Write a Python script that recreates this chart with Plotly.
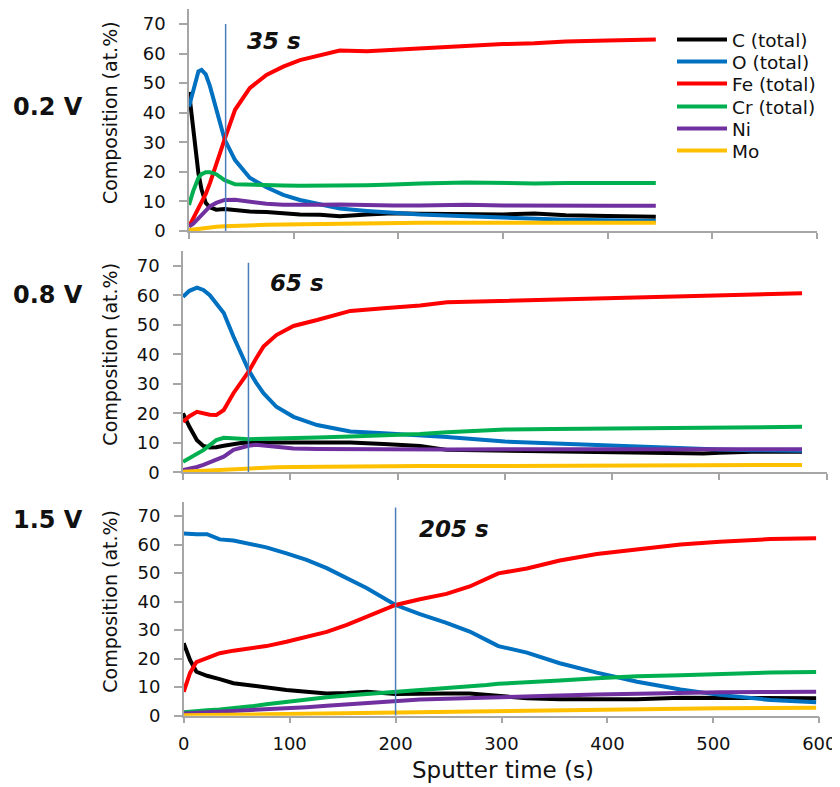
import plotly.graph_objects as go

# ---------------- data ----------------
series_names = ["C (total)", "O (total)", "Fe (total)", "Cr (total)", "Ni", "Mo"]
series_colors = ["#000000", "#0070C0", "#FF0000", "#00B050", "#7030A0", "#FFC000"]
panel_labels = ["0.2 V", "0.8 V", "1.5 V"]
marker_labels = ["35 s", "65 s", "205 s"]
marker_times = [35, 61, 200]
marker_tops = [70, 71, 73]
x_ticks = [0, 100, 200, 300, 400, 500, 600]
y_ticks = [0, 10, 20, 30, 40, 50, 60, 70]

# 0.2 V
t_02 = [0, 4, 9, 12, 16, 20, 26, 34, 44, 58, 74, 90, 106, 125, 144, 170, 195, 221, 265, 300, 330, 360, 400, 446]
c_02 = [47, 35, 19.5, 14, 9.5, 8.0, 7.2, 7.4, 7.0, 6.6, 6.4, 6.0, 5.6, 5.5, 5.0, 5.6, 6.0, 5.8, 5.7, 5.6, 5.9, 5.3, 5.1, 4.8]
o_02 = [42, 47, 54, 54.5, 53, 49, 41, 31, 24, 18, 14.8, 12.2, 10.5, 9.2, 7.6, 6.8, 6.2, 5.6, 5.0, 4.5, 4.0, 3.8, 3.6, 3.4]
fe_02 = [1.5, 4.2, 7.4, 9.2, 12.5, 16.2, 22.9, 31, 41, 48.3, 52.8, 55.6, 57.8, 59.5, 61.0, 60.8, 61.3, 61.5, 62.7, 63.2, 63.5, 64.1, 64.4, 64.8]
cr_02 = [8.8, 13.5, 18, 19.2, 19.9, 19.9, 19.2, 17.2, 15.8, 15.6, 15.5, 15.4, 15.3, 15.3, 15.4, 15.5, 15.7, 16.1, 16.4, 16.1, 16.1, 16.2, 16.2, 16.2]
ni_02 = [1.5, 2.5, 4.3, 5.4, 7.0, 8.3, 9.5, 10.5, 10.6, 9.9, 9.2, 8.9, 8.8, 8.9, 9.0, 8.7, 8.6, 8.6, 8.9, 8.6, 8.5, 8.5, 8.5, 8.5]
mo_02 = [0.3, 0.5, 0.8, 0.9, 1.1, 1.2, 1.4, 1.6, 1.8, 2.0, 2.1, 2.2, 2.3, 2.4, 2.5, 2.6, 2.7, 2.8, 2.8, 2.8, 2.8, 2.8, 2.8, 2.8]

# 0.8 V
t_08 = [0, 6, 13, 19, 25, 31, 38, 47, 54, 61, 68, 75, 87, 103, 125, 156, 187, 221, 246, 300, 345, 376, 407, 454, 485, 500, 530, 577]
c_08 = [20, 15.4, 10.9, 8.9, 8.4, 8.5, 9.0, 9.6, 9.9, 10.1, 10.1, 10.1, 10.1, 10.2, 10.4, 10.1, 9.6, 8.9, 7.6, 7.3, 7.1, 7.0, 6.9, 6.6, 6.4, 6.6, 7.0, 7.0]
o_08 = [59.5, 61.5, 62.6, 61.8, 60, 57.3, 54, 46, 40.5, 34.7, 30.5, 26.8, 22.2, 18.8, 16.0, 13.8, 13.2, 12.6, 12.0, 10.4, 9.8, 9.3, 8.9, 8.1, 7.8, 7.7, 7.5, 7.3]
fe_08 = [17.1, 19.0, 20.5, 19.9, 19.5, 19.4, 21.1, 26.8, 30.5, 34.0, 38.5, 42.6, 46.5, 49.6, 51.6, 54.7, 55.6, 56.5, 57.6, 58.1, 58.6, 58.9, 59.1, 59.5, 59.9, 60.1, 60.3, 60.7]
cr_08 = [3.6, 4.8, 6.0, 7.5, 9.2, 10.9, 11.7, 11.7, 11.4, 11.2, 11.3, 11.4, 11.5, 11.6, 11.8, 12.1, 12.5, 13.0, 13.6, 14.5, 14.7, 14.8, 15.0, 15.1, 15.2, 15.2, 15.3, 15.4]
ni_08 = [0.8, 1.2, 1.8, 2.5, 3.3, 4.2, 5.3, 7.6, 8.4, 9.0, 9.3, 9.1, 8.5, 8.1, 7.9, 7.8, 7.7, 7.6, 7.7, 7.8, 7.8, 7.8, 7.8, 7.8, 7.8, 7.8, 7.8, 7.8]
mo_08 = [0.2, 0.3, 0.5, 0.6, 0.8, 0.9, 1.1, 1.3, 1.4, 1.4, 1.5, 1.6, 1.7, 1.8, 1.9, 1.9, 2.0, 2.1, 2.1, 2.2, 2.3, 2.3, 2.4, 2.4, 2.4, 2.5, 2.5, 2.5]

# 1.5 V
t_15 = [0, 6, 12, 22, 34, 47, 66, 78, 97, 116, 135, 154, 173, 200, 223, 248, 270, 286, 297, 324, 355, 390, 428, 469, 506, 554, 597]
c_15 = [25.4, 19.5, 15.4, 14.0, 12.8, 11.4, 10.5, 9.9, 9.0, 8.4, 7.8, 8.0, 8.4, 7.6, 7.8, 7.8, 7.8, 7.3, 6.8, 6.1, 5.8, 5.7, 5.8, 6.3, 6.3, 6.1, 6.1]
o_15 = [63.9, 63.7, 63.6, 63.6, 61.8, 61.4, 59.8, 59.0, 56.9, 54.6, 51.7, 48.2, 44.7, 38.8, 35.6, 32.5, 29.5, 26.5, 24.4, 22.1, 18.4, 15.1, 11.9, 9.2, 7.3, 5.5, 4.7]
fe_15 = [8.4, 15, 18.8, 20.1, 21.9, 22.8, 23.6, 24.4, 25.9, 27.7, 29.4, 31.8, 34.7, 38.8, 40.8, 42.7, 45.3, 48.0, 49.9, 51.6, 54.4, 56.7, 58.4, 60.0, 61.0, 61.9, 62.2]
cr_15 = [1.2, 1.3, 1.5, 1.9, 2.2, 2.6, 3.4, 4.0, 4.9, 5.7, 6.5, 7.1, 7.6, 8.2, 9.0, 9.6, 10.2, 10.8, 11.2, 11.6, 12.3, 13.1, 13.8, 14.2, 14.7, 15.1, 15.3]
ni_15 = [0.8, 0.9, 1.0, 1.2, 1.5, 1.7, 2.0, 2.2, 2.6, 3.0, 3.5, 4.0, 4.6, 5.3, 5.7, 5.9, 6.2, 6.4, 6.5, 6.8, 7.1, 7.4, 7.7, 7.9, 8.2, 8.3, 8.4]
mo_15 = [0.2, 0.2, 0.3, 0.3, 0.3, 0.4, 0.5, 0.5, 0.6, 0.7, 0.8, 1.0, 1.1, 1.3, 1.4, 1.5, 1.6, 1.7, 1.8, 1.9, 2.1, 2.2, 2.3, 2.5, 2.6, 2.7, 2.8]

panels = [
    (t_02, [c_02, o_02, fe_02, cr_02, ni_02, mo_02]),
    (t_08, [c_08, o_08, fe_08, cr_08, ni_08, mo_08]),
    (t_15, [c_15, o_15, fe_15, cr_15, ni_15, mo_15]),
]

# ---------------- layout helpers ----------------
OFF = 8  # page body margin in the browser
W, H = 840 - OFF, 787 - OFF
FONT = "DejaVu Sans"
AXIS_GREY = "#A6A6A6"


def px(x):
    return (x - OFF) / W


def py(y):
    return 1 - (y - OFF) / H


# pixel geometry (window coordinates) of each plot area: (left, right, y0 pixel, pixels per unit)
geom = [
    (189.0, 817.0, 231.0, 2.957),
    (183.0, 826.7, 472.3, 2.951),
    (183.7, 819.3, 715.7, 2.853),
]
YMAX = 75
legend_rows = [40, 62, 84, 107, 129, 151]
legend_ids = ["legend", "legend2", "legend3", "legend4", "legend5", "legend6"]

fig = go.Figure()

for i, (times, vals) in enumerate(panels):
    suffix = "" if i == 0 else str(i + 1)
    for j, name in enumerate(series_names):
        fig.add_trace(go.Scatter(
            x=times, y=vals[j], mode="lines", name=name,
            line=dict(color=series_colors[j], width=4),
            xaxis="x" + suffix, yaxis="y" + suffix,
            showlegend=(i == 0), legend=legend_ids[j],
        ))

annotations = []
shapes = []
for i in range(3):
    suffix = "" if i == 0 else str(i + 1)
    left, right, y0, ppu = geom[i]
    ytop = y0 - YMAX * ppu
    xa = dict(
        domain=[px(left), px(right)], range=[0, 600], anchor="y" + suffix,
        tickvals=x_ticks, showticklabels=(i == 2), ticks="outside", ticklen=6,
        tickcolor=AXIS_GREY, tickwidth=1.5, showline=True, linecolor=AXIS_GREY, linewidth=1.5,
        showgrid=False, zeroline=False, tickfont=dict(family=FONT, size=18, color="#111"),
        ticklabelstandoff=5,
    )
    ya = dict(
        domain=[py(y0), py(ytop)], range=[0, YMAX], anchor="x" + suffix,
        tickvals=y_ticks, ticks="outside", ticklen=8, tickcolor=AXIS_GREY, tickwidth=1.5,
        showline=True, linecolor=AXIS_GREY, linewidth=1.5, showgrid=False, zeroline=False,
        tickfont=dict(family=FONT, size=18, color="#111"), ticklabelstandoff=10,
    )
    fig.layout["xaxis" + suffix] = xa
    fig.layout["yaxis" + suffix] = ya

    # vertical marker line
    shapes.append(dict(
        type="line", xref="x" + suffix, yref="y" + suffix,
        x0=marker_times[i], x1=marker_times[i], y0=0, y1=marker_tops[i],
        line=dict(color="#4A7EBB", width=1.5),
    ))
    # y title
    annotations.append(dict(
        text="Composition (at.%)", x=px(110), y=py((y0 + ytop) / 2 - 7),
        xref="paper", yref="paper", showarrow=False, textangle=-90,
        xanchor="center", yanchor="middle", font=dict(family=FONT, size=19, color="#111"),
    ))

# voltage labels
for lbl, yc in zip(panel_labels, [107, 295, 520]):
    annotations.append(dict(
        text="<b>%s</b>" % lbl, x=px(11), y=py(yc), xref="paper", yref="paper",
        showarrow=False, xanchor="left", yanchor="middle",
        font=dict(family=FONT, size=24, color="#111"),
    ))

# time labels
for lbl, (xl, yc) in zip(marker_labels, [(245, 41), (268, 283), (417, 529)]):
    annotations.append(dict(
        text="<b><i>%s</i></b>" % lbl, x=px(xl), y=py(yc), xref="paper", yref="paper",
        showarrow=False, xanchor="left", yanchor="middle",
        font=dict(family=FONT, size=23, color="#111"),
    ))

# x title
annotations.append(dict(
    text="Sputter time (s)", x=px(503), y=py(770), xref="paper", yref="paper",
    showarrow=False, xanchor="center", yanchor="middle",
    font=dict(family=FONT, size=23, color="#111"),
))

fig.update_layout(
    width=W, height=H, margin=dict(l=0, r=0, t=0, b=0, autoexpand=False),
    paper_bgcolor="white", plot_bgcolor="white",
    annotations=annotations, shapes=shapes,
    font=dict(family=FONT),
)
for lid, row in zip(legend_ids, legend_rows):
    fig.layout[lid] = dict(
        x=px(672), y=py(row), xanchor="left", yanchor="middle",
        font=dict(family=FONT, size=18.5, color="#111"),
        bgcolor="rgba(0,0,0,0)", itemwidth=50, borderwidth=0,
    )

fig.write_html("out.html")
